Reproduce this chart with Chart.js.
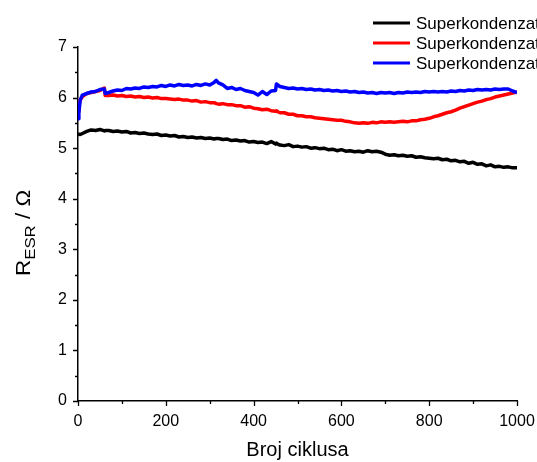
<!DOCTYPE html>
<html><head><meta charset="utf-8">
<script src="https://cdn.jsdelivr.net/npm/chart.js@4/dist/chart.umd.min.js"></script>
<style>html,body{margin:0;padding:0;background:#fff;overflow:hidden}#wrap{width:537px;height:462px;position:relative}canvas{display:block}</style>
</head><body><div id="wrap"><canvas id="c" width="537" height="462"></canvas></div>
<script>
const cycles=[0,2,5,10,20,30,40,50,60,62,70,80,90,
100,110,120,130,140,150,160,170,180,190,
200,210,220,230,240,250,260,270,280,290,
300,310,315,320,330,340,350,360,370,380,390,
400,410,420,430,440,450,452,455,460,470,480,490,
500,510,520,530,540,550,560,570,580,590,
600,610,620,630,640,650,660,670,680,690,
700,710,720,730,740,750,760,770,780,790,
800,810,820,830,840,850,860,870,880,890,
900,910,920,930,940,950,960,970,980,990,1000];
const black=[5.28,5.28,5.27,5.29,5.33,5.36,5.35,5.37,5.34,5.35,5.35,5.33,5.34,
5.32,5.33,5.30,5.31,5.29,5.30,5.28,5.27,5.28,5.25,
5.26,5.24,5.25,5.22,5.23,5.21,5.22,5.20,5.21,5.19,
5.20,5.18,5.19,5.19,5.17,5.18,5.15,5.16,5.14,5.15,5.12,
5.13,5.11,5.12,5.09,5.13,5.08,5.10,5.08,5.06,5.05,5.07,5.03,
5.04,5.02,5.03,5.00,5.01,4.99,5.00,4.97,4.98,4.95,
4.97,4.94,4.95,4.93,4.94,4.92,4.95,4.93,4.94,4.92,
4.88,4.86,4.87,4.85,4.86,4.84,4.85,4.82,4.83,4.81,
4.80,4.79,4.80,4.77,4.78,4.75,4.76,4.73,4.74,4.70,
4.72,4.68,4.69,4.65,4.67,4.63,4.64,4.62,4.63,4.61,4.61];
const red=[5.72,5.85,5.95,6.02,6.08,6.10,6.12,6.14,6.19,6.04,6.04,6.05,6.03,
6.04,6.02,6.03,6.01,6.02,6.00,6.01,5.99,6.00,5.98,
5.98,5.97,5.96,5.97,5.95,5.95,5.93,5.94,5.91,5.92,
5.90,5.90,5.88,5.87,5.88,5.86,5.86,5.84,5.84,5.81,5.82,
5.79,5.78,5.76,5.77,5.74,5.73,5.74,5.72,5.70,5.70,5.67,5.67,
5.64,5.64,5.62,5.62,5.60,5.59,5.58,5.57,5.56,5.55,
5.55,5.53,5.52,5.50,5.49,5.50,5.49,5.51,5.50,5.52,
5.51,5.52,5.51,5.52,5.53,5.52,5.54,5.54,5.56,5.57,
5.59,5.62,5.64,5.67,5.70,5.72,5.75,5.79,5.82,5.85,
5.88,5.91,5.93,5.96,5.98,6.01,6.03,6.05,6.07,6.09,6.11];
const blue=[5.58,5.70,5.95,6.05,6.08,6.11,6.12,6.16,6.17,6.08,6.10,6.13,6.15,
6.14,6.18,6.17,6.19,6.18,6.21,6.20,6.22,6.21,6.24,
6.22,6.25,6.23,6.26,6.24,6.25,6.23,6.26,6.24,6.27,
6.25,6.30,6.34,6.29,6.25,6.18,6.20,6.16,6.18,6.14,6.12,
6.10,6.05,6.12,6.06,6.13,6.14,6.27,6.25,6.22,6.20,6.18,6.19,
6.17,6.18,6.16,6.17,6.15,6.16,6.14,6.15,6.13,6.14,
6.12,6.13,6.11,6.12,6.10,6.11,6.09,6.10,6.08,6.10,
6.09,6.10,6.08,6.10,6.09,6.11,6.10,6.11,6.10,6.12,
6.11,6.12,6.11,6.12,6.11,6.13,6.12,6.14,6.13,6.15,
6.14,6.16,6.15,6.16,6.15,6.17,6.16,6.17,6.17,6.13,6.10];
const seriesNames=['Superkondenzator 1','Superkondenzator 2','Superkondenzator 3'];
const seriesColors=['#000000','#ff0000','#0000ff'];
const xMinor=[100,300,500,700,900];
const yMinor=[0.5,1.5,2.5,3.5,4.5,5.5,6.5];
const xTitle='Broj ciklusa';
const FONT='"Liberation Sans", Arial, sans-serif';

const pts=arr=>cycles.map((c,i)=>({x:c,y:arr[i]}));

const extraPlugin={
  id:'extra',
  afterDraw(chart){
    const ctx=chart.ctx, xs=chart.scales.x, ys=chart.scales.y, ca=chart.chartArea;
    ctx.save();
    ctx.strokeStyle='#000';ctx.lineWidth=1.3;ctx.beginPath();
    xs.ticks.forEach(t=>{const p=Math.round(xs.getPixelForValue(t.value))+0.5;ctx.moveTo(p,ca.bottom);ctx.lineTo(p,ca.bottom+5);});
    xMinor.forEach(v=>{const p=Math.round(xs.getPixelForValue(v))+0.5;ctx.moveTo(p,ca.bottom);ctx.lineTo(p,ca.bottom+3);});
    ys.ticks.forEach(t=>{const p=Math.round(ys.getPixelForValue(t.value))+0.5;ctx.moveTo(ca.left,p);ctx.lineTo(ca.left-5,p);});
    yMinor.forEach(v=>{const p=Math.round(ys.getPixelForValue(v))+0.5;ctx.moveTo(ca.left,p);ctx.lineTo(ca.left-3,p);});
    ctx.stroke();
    // legend
    const rows=[23,43,63];
    chart.data.datasets.forEach((ds,i)=>{
      ctx.strokeStyle=ds.borderColor;ctx.lineWidth=3;
      ctx.beginPath();ctx.moveTo(373,rows[i]);ctx.lineTo(410,rows[i]);ctx.stroke();
      ctx.fillStyle='#000';ctx.font='17px '+FONT;ctx.textBaseline='middle';ctx.textAlign='left';
      ctx.fillText(ds.label,416,rows[i]+1);
    });
    // y title with subscript
    ctx.translate(30,276);ctx.rotate(-Math.PI/2);ctx.scale(1.12,1);
    ctx.fillStyle='#000';ctx.textBaseline='alphabetic';ctx.textAlign='left';
    let x=0;
    ctx.font='20px '+FONT;ctx.fillText('R',x,0);x+=ctx.measureText('R').width;
    ctx.font='15px '+FONT;ctx.fillText('ESR',x,5);x+=ctx.measureText('ESR').width;
    ctx.font='20px '+FONT;ctx.fillText(' / \u03A9',x,0);
    ctx.restore();
  }
};

new Chart(document.getElementById('c'),{
  type:'line',
  data:{datasets:[
    {label:seriesNames[0],data:pts(black),borderColor:seriesColors[0],order:3},
    {label:seriesNames[1],data:pts(red),borderColor:seriesColors[1],order:2},
    {label:seriesNames[2],data:pts(blue),borderColor:seriesColors[2],order:1}
  ]},
  options:{
    responsive:false,animation:false,devicePixelRatio:1,
    layout:{padding:{top:47,right:20,left:0,bottom:0}},
    elements:{line:{borderWidth:3.5,tension:0,borderJoinStyle:'round'},point:{radius:0}},
    plugins:{legend:{display:false},tooltip:{enabled:false}},
    scales:{
      x:{type:'linear',min:0,max:1000,
        grid:{display:false,drawTicks:false},
        border:{display:true,color:'#000',width:1.5},
        ticks:{stepSize:200,color:'#000',font:{family:FONT,size:16},padding:11,maxRotation:0,callback:v=>String(v)},
        title:{display:true,text:xTitle,color:'#000',font:{family:FONT,size:20},padding:{top:0,bottom:0}},
        afterFit(s){s.height=61;s.paddingLeft=0;s.paddingRight=0;}
      },
      y:{min:0,max:7,
        grid:{display:false,drawTicks:false},
        border:{display:true,color:'#000',width:1.5},
        ticks:{stepSize:1,color:'#000',font:{family:FONT,size:16},padding:11,callback:v=>String(v)},
        afterFit(s){s.width=78;s.paddingTop=0;s.paddingBottom=0;}
      }
    }
  },
  plugins:[extraPlugin]
});
</script></body></html>
